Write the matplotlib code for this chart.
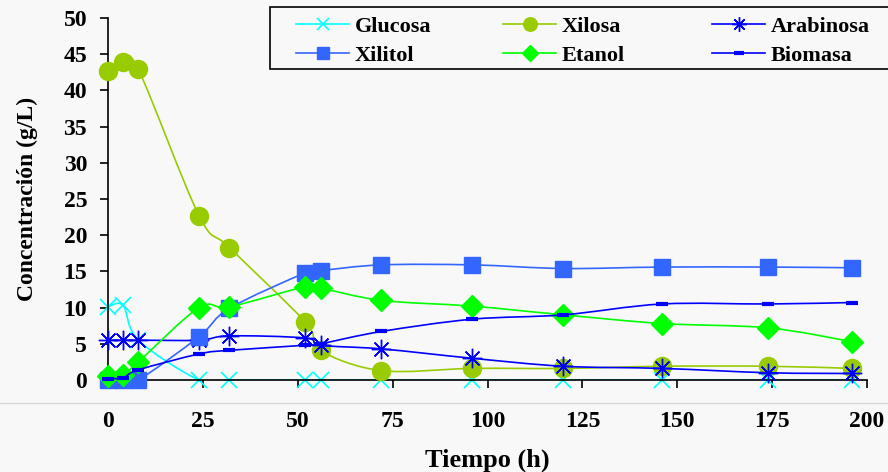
import numpy as np
import matplotlib
matplotlib.use('Agg')
import matplotlib.pyplot as plt
from matplotlib.path import Path
from matplotlib.patches import PathPatch, Rectangle
from matplotlib.lines import Line2D

# Datos
tiempo = [0, 4, 8, 24, 32, 52, 56, 72, 96, 120, 146, 174, 196]
glucosa = [10.1, 10.3, 5.5, 0, 0, 0, 0, 0, 0, 0, 0, 0, 0]
xilosa = [42.7, 43.9, 42.9, 22.7, 18.3, 8.0, 4.1, 1.3, 1.6, 1.6, 1.9, 1.9, 1.6]
arabinosa = [5.5, 5.5, 5.5, 5.5, 6.1, 5.8, 4.8, 4.3, 3.0, 1.9, 1.6, 1.0, 0.9]
xilitol = [0, 0, 0, 6.0, 9.9, 14.8, 15.1, 15.9, 15.9, 15.4, 15.6, 15.6, 15.5]
etanol = [0.5, 0.7, 2.5, 10.0, 10.1, 12.9, 12.7, 11.0, 10.2, 9.0, 7.8, 7.2, 5.3]
biomasa = [0.2, 0.3, 1.4, 3.6, 4.1, 4.8, 5.0, 6.7, 8.4, 9.0, 10.5, 10.5, 10.7]

nombres = ['Glucosa', 'Xilosa', 'Arabinosa', 'Xilitol', 'Etanol', 'Biomasa']
series = [glucosa, xilosa, arabinosa, xilitol, etanol, biomasa]
colores = ['#00ffff', '#99cc00', '#0000ff', '#3366ff', '#00ff00', '#0000ff']
marcadores = ['x', 'o', (8, 2, 0), 's', 'D', '_']
tamanos = [12, 13, 14, 12, 11, 9]
bordes = [1.2, 1.0, 1.0, 1.0, 1.0, 3.0]

bg = '#f8f8f8'
plt.rcParams['font.family'] = ['Liberation Serif', 'DejaVu Serif']
plt.rcParams['font.weight'] = 'bold'


def curva_suave(x, y):
    # curva tipo Excel (Catmull-Rom convertida a Bezier)
    x = np.asarray(x, float)
    y = np.asarray(y, float)
    n = len(x)
    verts = [(x[0], y[0])]
    codes = [Path.MOVETO]
    for i in range(n - 1):
        i0 = max(i - 1, 0)
        i3 = min(i + 2, n - 1)
        c1 = (x[i] + (x[i + 1] - x[i0]) / 6, y[i] + (y[i + 1] - y[i0]) / 6)
        c2 = (x[i + 1] - (x[i3] - x[i]) / 6, y[i + 1] - (y[i3] - y[i]) / 6)
        verts += [c1, c2, (x[i + 1], y[i + 1])]
        codes += [Path.CURVE4] * 3
    return Path(verts, codes)


fig = plt.figure(figsize=(8.88, 4.72), dpi=100, facecolor=bg)
ax = fig.add_axes([108 / 888, 1 - 380 / 472, (867 - 108) / 888, (380 - 18) / 472])
ax.set_facecolor(bg)

handles = []
for k in range(len(series)):
    ax.add_patch(PathPatch(curva_suave(tiempo, series[k]), fill=False,
                           edgecolor=colores[k], linewidth=1.2, zorder=2 + k))
    ax.plot(tiempo, series[k], linestyle='none', marker=marcadores[k],
            markersize=tamanos[k], color=colores[k], markeredgecolor=colores[k],
            markeredgewidth=bordes[k], clip_on=False, zorder=2 + k)
    handles.append(Line2D([], [], color=colores[k], linewidth=1.2, marker=marcadores[k],
                          markersize=tamanos[k] * 0.75, markeredgewidth=bordes[k],
                          markeredgecolor=colores[k]))

ax.set_xlim(0, 200)
ax.set_ylim(0, 50)
ax.set_xticks(np.arange(0, 201, 25))
ax.set_yticks(np.arange(0, 51, 5))
ax.spines['top'].set_visible(False)
ax.spines['right'].set_visible(False)
ax.spines['left'].set_linewidth(1.2)
ax.spines['bottom'].set_linewidth(1.2)
ax.tick_params(axis='y', direction='out', length=6, width=1.2, pad=9, labelsize=17)
ax.tick_params(axis='x', direction='out', length=6, width=1.2, pad=16, labelsize=17)
for lab in ax.get_xticklabels() + ax.get_yticklabels():
    lab.set_fontweight('bold')

ax.set_xlabel('Tiempo (h)', fontsize=19, fontweight='bold', labelpad=12)
ax.set_ylabel('Concentración (g/L)', fontsize=17, fontweight='bold', labelpad=18)

# recuadro de la leyenda (se sale por la derecha como en el original)
fig.add_artist(Rectangle((270 / 888, 1 - 69 / 472), 640 / 888, 62 / 472,
                         transform=fig.transFigure, facecolor=bg, edgecolor='black',
                         linewidth=1.2, clip_on=False, zorder=5))

# una columna de leyenda por cada par (columnas de igual ancho, como en Excel)
columnas_x = [296, 503, 712]
for c in range(3):
    idx = [c, c + 3]
    leg = fig.legend([handles[i] for i in idx], [nombres[i] for i in idx], ncol=1,
                     loc='upper left', bbox_to_anchor=(columnas_x[c] / 888, 1 - 16 / 472),
                     fontsize=16, frameon=False, handlelength=2.4, handletextpad=0.25,
                     labelspacing=0.4, borderpad=0, borderaxespad=0)
    leg.set_zorder(6)
    for txt in leg.get_texts():
        txt.set_fontweight('bold')

# linea gris separando el area del grafico
fig.add_artist(Line2D([0, 1], [1 - 403 / 472, 1 - 403 / 472], transform=fig.transFigure,
                      color='#d8d8d8', linewidth=1))

fig.savefig('out.png', dpi=100, facecolor=bg)
